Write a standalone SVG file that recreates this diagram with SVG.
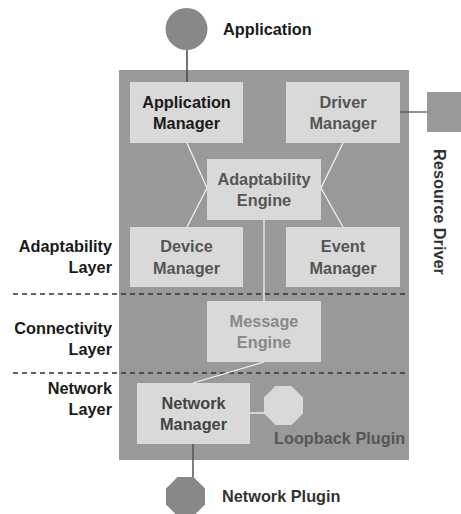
<svg xmlns="http://www.w3.org/2000/svg" width="461" height="514" viewBox="0 0 461 514">
<style>
text{font-family:"Liberation Sans",Arial,sans-serif;font-weight:bold;font-size:16.3px}
.box{fill:#d9d9d9}
.c{text-anchor:middle}
.r{text-anchor:end;fill:#1a1a1a}
.mid{fill:#555}
.wl{stroke:#f2f2f2;stroke-width:1.3;fill:none}
.dl{stroke:#444;stroke-width:1.5;fill:none}
.dash{stroke:#333;stroke-width:1.3;stroke-dasharray:5 4}
</style>
<rect x="0" y="0" width="461" height="514" fill="#fff"/>
<g id="platform"><rect x="119" y="70" width="290" height="390" fill="#999"/></g>
<g id="layers">
<line class="dash" x1="13" y1="294" x2="409" y2="294"/>
<line class="dash" x1="13" y1="373" x2="409" y2="373"/>
<text class="r" x="112" y="252">Adaptability</text>
<text class="r" x="112" y="273">Layer</text>
<text class="r" x="112" y="334">Connectivity</text>
<text class="r" x="112" y="355">Layer</text>
<text class="r" x="112" y="394">Network</text>
<text class="r" x="112" y="415">Layer</text>
</g>
<g id="connectors">
<line class="dl" x1="187" y1="50" x2="187" y2="82"/>
<line x1="400" y1="112" x2="427" y2="112" stroke="#555" stroke-width="1.3"/>
<polyline class="wl" points="187,143 207,188 187,227"/>
<polyline class="wl" points="343,143 321,188 343,227"/>
<line class="wl" x1="264" y1="220" x2="264" y2="301"/>
<line class="wl" x1="264" y1="362" x2="193" y2="383"/>
<line class="wl" x1="250" y1="413" x2="264" y2="413"/>
<line x1="193" y1="444" x2="193" y2="478" stroke="#555" stroke-width="1.5"/>
</g>
<g id="application"><circle cx="186.5" cy="29" r="21" fill="#888"/><text x="223" y="35" fill="#1a1a1a">Application</text></g>
<g id="app-manager"><rect class="box" x="130" y="82" width="113" height="61"/><text class="c" x="186.5" y="108" fill="#1a1a1a">Application</text><text class="c" x="186.5" y="129" fill="#1a1a1a">Manager</text></g>
<g id="driver-manager"><rect class="box" x="286" y="82" width="114" height="61"/><text class="c mid" x="343" y="108">Driver</text><text class="c mid" x="343" y="129">Manager</text></g>
<g id="resource-driver"><rect x="427" y="92" width="40" height="40" fill="#999"/><text class="c" transform="translate(434,212) rotate(90)" fill="#333">Resource Driver</text></g>
<g id="adapt-engine"><rect class="box" x="207" y="159" width="114" height="61"/><text class="c mid" x="264" y="185">Adaptability</text><text class="c mid" x="264" y="206">Engine</text></g>
<g id="device-manager"><rect class="box" x="130" y="227" width="113" height="60"/><text class="c mid" x="186.5" y="252">Device</text><text class="c mid" x="186.5" y="274">Manager</text></g>
<g id="event-manager"><rect class="box" x="286" y="227" width="114" height="60"/><text class="c mid" x="343" y="252">Event</text><text class="c mid" x="343" y="274">Manager</text></g>
<g id="message-engine"><rect class="box" x="207" y="301" width="114" height="61"/><text class="c" x="264" y="327" fill="#888">Message</text><text class="c" x="264" y="348" fill="#888">Engine</text></g>
<g id="network-manager"><rect class="box" x="137" y="383" width="113" height="61"/><text class="c" x="193.5" y="409" fill="#444">Network</text><text class="c" x="193.5" y="430" fill="#444">Manager</text></g>
<g id="loopback-plugin"><polygon points="275.5,386 291.5,386 303,397.5 303,413.5 291.5,425 275.5,425 264,413.5 264,397.5" fill="#d9d9d9"/><text x="274" y="444" fill="#555">Loopback Plugin</text></g>
<g id="network-plugin"><polygon points="177.5,477 193.5,477 205,488.5 205,504.5 193.5,516 177.5,516 166,504.5 166,488.5" fill="#888"/><text x="222" y="502" fill="#333">Network Plugin</text></g>
</svg>
